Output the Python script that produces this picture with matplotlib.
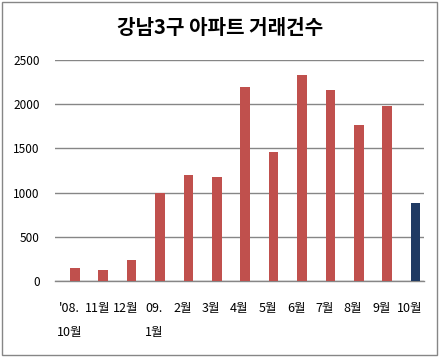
import matplotlib
matplotlib.use("Agg")
import matplotlib.pyplot as plt
from matplotlib.patches import Rectangle

plt.rcParams['font.family'] = ['Noto Sans CJK KR', 'DejaVu Sans']

title = "강남3구 아파트 거래건수"
categories = ["'08.\n10월", "11월", "12월", "09.\n1월", "2월", "3월", "4월",
              "5월", "6월", "7월", "8월", "9월", "10월"]
values = [148, 125, 238, 1000, 1198, 1176, 2192, 1458, 2326, 2157, 1762, 1976, 882]
colors = ["#C0504D"] * 12 + ["#1F3A63"]
yticks = [0, 500, 1000, 1500, 2000, 2500]

fig = plt.figure(figsize=(4.41, 3.57), dpi=100)
ax = fig.add_axes([55/441, 1 - 281/357, (424 - 55)/441, (281 - 60)/357])

x = list(range(len(categories)))
ax.bar([i + 0.2 for i in x], values, width=0.34, color=colors, zorder=3)

ax.set_xlim(-0.5, len(categories) - 0.5)
ax.set_ylim(0, 2500)
ax.set_yticks(yticks)
ax.set_yticklabels([str(v) for v in yticks], fontsize=8.5)
ax.set_xticks(x)
ax.set_xticklabels(categories, fontsize=9, linespacing=2.1, va='top')
ax.tick_params(axis='both', length=0)
ax.tick_params(axis='y', pad=11)
ax.tick_params(axis='x', pad=15)

ax.grid(axis='y', color='#868686', linewidth=1.0, zorder=0)
for s in ['top', 'right', 'left']:
    ax.spines[s].set_visible(False)
ax.spines['bottom'].set_color('#868686')
ax.spines['bottom'].set_linewidth(1.0)

fig.text(0.5, 1 - 28/357, title, ha='center', va='center', fontsize=14.5, fontweight='bold')

fig.patches.append(Rectangle((2/441, 2/357), 435/441, 353/357, transform=fig.transFigure,
                             fill=False, edgecolor='#868686', linewidth=1.0))

fig.savefig("out.png", dpi=100)
